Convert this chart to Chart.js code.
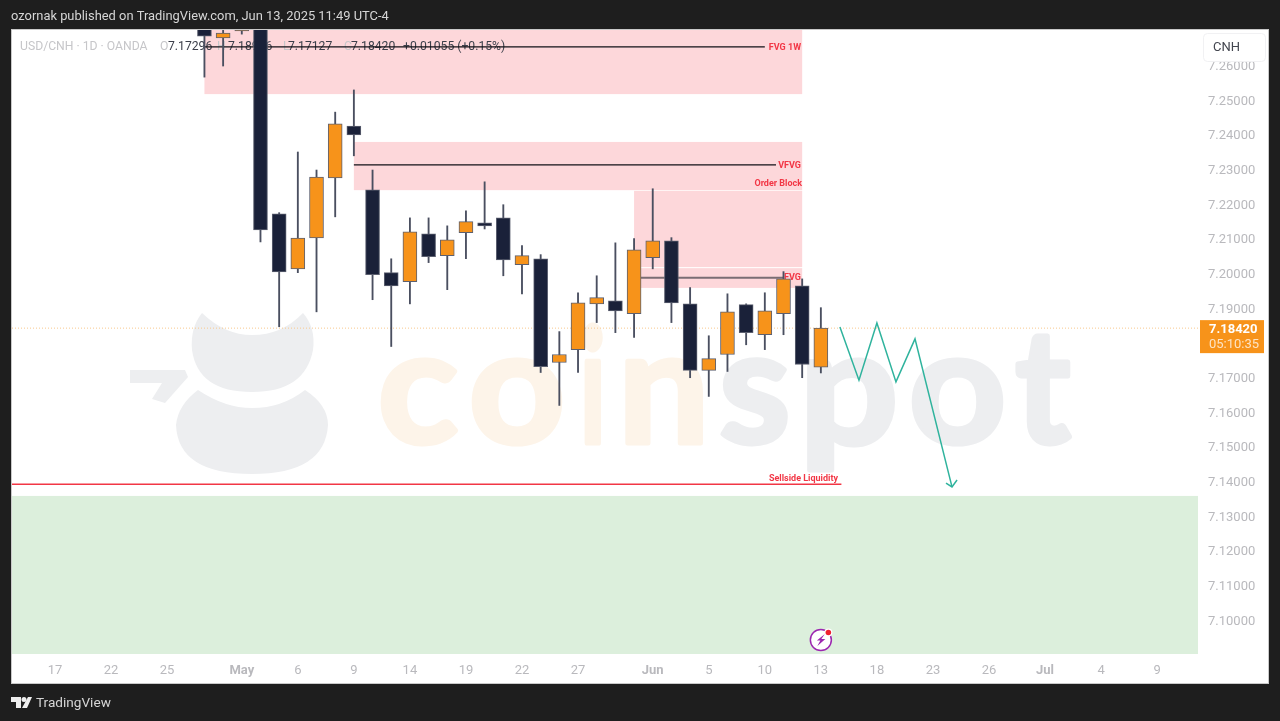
<!DOCTYPE html>
<html lang="en">
<head>
  <meta charset="UTF-8">
  <title>USD/CNH 1D</title>
  <style>
    html, body { margin: 0; padding: 0; background: #1e1e1e; overflow: hidden; }
    canvas { display: block; }
  </style>
</head>
<body>
  <canvas id="myChart" width="1280" height="721"></canvas>

  <script src="https://cdn.jsdelivr.net/npm/chart.js"></script>
  <script>
    // Daily candles, index 0 = Apr 17, index 41 = Jun 13
    const sessionDates = ["Apr 17","Apr 18","Apr 21","Apr 22","Apr 23","Apr 24","Apr 25","Apr 28","Apr 29","Apr 30",
      "May 1","May 2","May 5","May 6","May 7","May 8","May 9","May 12","May 13","May 14","May 15","May 16",
      "May 19","May 20","May 21","May 22","May 23","May 26","May 27","May 28","May 29","May 30",
      "Jun 2","Jun 3","Jun 4","Jun 5","Jun 6","Jun 9","Jun 10","Jun 11","Jun 12","Jun 13"];
    const firstCandle = 8; // older candles are off the top of the picture

    const opens  = [7.2730,7.2679,7.2699,7.2960,7.2172,7.2013,7.2102,7.2275,7.2425,7.2241,7.2002,7.1976,7.2114,7.2051,7.2117,7.2146,7.2160,7.2025,7.2042,7.1743,7.1780,7.1912,7.1921,7.1884,7.2045,7.2094,7.1912,7.1720,7.1766,7.1910,7.1823,7.1884,7.1964,7.17296];
    const highs  = [7.2770,7.2750,7.2760,7.2990,7.2175,7.2350,7.2298,7.2465,7.2529,7.2298,7.2042,7.2160,7.2160,7.2137,7.2180,7.2264,7.2198,7.2080,7.2054,7.1832,7.1944,7.1993,7.2088,7.2100,7.2244,7.2103,7.1959,7.1820,7.1941,7.1912,7.1944,7.2005,7.1984,7.1901];
    const lows   = [7.2566,7.2598,7.2690,7.2091,7.1846,7.2002,7.1889,7.2163,7.2339,7.1924,7.1789,7.1912,7.2031,7.1953,7.2042,7.2128,7.1993,7.1941,7.1714,7.1619,7.1714,7.1858,7.1829,7.1815,7.2013,7.1858,7.1699,7.1645,7.1717,7.1794,7.1780,7.1823,7.1699,7.17127];
    const closes = [7.2684,7.2693,7.2725,7.2125,7.2004,7.2102,7.2278,7.2431,7.2399,7.1996,7.1964,7.2120,7.2048,7.2097,7.2149,7.2137,7.2039,7.2051,7.1731,7.1766,7.1915,7.1930,7.1892,7.2068,7.2094,7.1915,7.1720,7.1754,7.1889,7.1829,7.1892,7.1984,7.1737,7.18420];

    const lastPrice = 7.18420;
    const countdown = "05:10:35";

    // Axis ticks
    const priceTicks = [7.10,7.11,7.12,7.13,7.14,7.15,7.16,7.17,7.18,7.19,7.20,7.21,7.22,7.23,7.24,7.25,7.26];
    const timeTickPos = [0,3,6,10,13,16,19,22,25,28,32,35,38,41,44,47,50,53,56,59];
    const timeTickLabels = ["17","22","25","May","6","9","14","19","22","27","Jun","5","10","13","18","23","26","Jul","4","9"];
    const boldTimeLabels = ["May","Jun","Jul"];

    // Pink zones
    const zoneNames  = ["FVG 1W","VFVG","Order Block","FVG"];
    const zoneStart  = [8,16,31,31];
    const zoneEnd    = [40,40,40,40];
    const zoneTop    = [7.2720,7.2379,7.2238,7.2015];
    const zoneBottom = [7.2517,7.2240,7.2018,7.1958];

    // Green zone
    const demandTop = 7.1358;
    const demandBottom = 7.0902;

    // Horizontal levels inside the zones
    const fvgWeekLevel = 7.2653;
    const vfvgLevel = 7.2313;
    const fvgLevel = 7.1987;
    const sellsideLevel = 7.1392;

    // Projected path drawn on the chart
    const pathX = [42.02,43.04,44.0,45.02,46.04,48.02];
    const pathY = [7.1845,7.1692,7.1857,7.1687,7.1811,7.1384];
    const arrowX = [47.70,48.02,48.29];
    const arrowY = [7.1395,7.1384,7.1404];

    const xMin = -2.302, xMax = 61.19;
    const yMin = 7.09021, yMax = 7.27019;

    const UP = "#f7931a", DOWN = "#1a2139", EDGE = "#5c6070", WICK = "#4a4f60";
    const RED = "#f23645", PINK = "#fdd7da", GREEN = "#dcefdc", TEAL = "#2fb39d";

    function level(from, to, y) {
      return [{ x: from, y: y }, { x: to, y: y }];
    }

    function lineSet(data, color, width, order, dash) {
      return {
        type: "line", data: data, borderColor: color, borderWidth: width,
        pointRadius: 0, tension: 0, order: order, borderDash: dash || [], borderCapStyle: "butt", fill: false
      };
    }

    // page frame, watermark and zones go under the candles
    const backdrop = {
      id: "backdrop",
      beforeDraw(chart) {
        const c = chart.ctx;
        c.save();
        c.fillStyle = "#1e1e1e";
        c.fillRect(0, 0, 1280, 721);
        c.fillStyle = "#ffffff";
        c.fillRect(11, 29, 1258, 655);
        c.strokeStyle = "#c9c9c9";
        c.lineWidth = 1;
        c.strokeRect(11.5, 29.5, 1257, 654);

        c.fillStyle = "#d6d6d6";
        c.font = "12.9px Roboto";
        c.textBaseline = "middle";
        c.fillText("ozornak published on TradingView.com, Jun 13, 2025 11:49 UTC-4", 11, 17);

        // TradingView mark
        c.fillStyle = "#eeeeee";
        c.fillRect(11, 697, 10, 5);
        c.fillRect(16, 697, 5, 11);
        c.beginPath();
        c.arc(24, 699.5, 2.5, 0, Math.PI * 2);
        c.fill();
        c.beginPath();
        c.moveTo(28, 697); c.lineTo(32, 697); c.lineTo(27, 708); c.lineTo(22, 708);
        c.closePath();
        c.fill();
        c.fillStyle = "#d6d6d6";
        c.font = "13.6px Roboto";
        c.fillText("TradingView", 36, 704);
        c.restore();
      },
      beforeDatasetsDraw(chart) {
        const c = chart.ctx, x = chart.scales.x, y = chart.scales.y;
        const area = chart.chartArea;
        c.save();
        c.beginPath();
        c.rect(area.left, area.top, area.right - area.left, area.bottom - area.top);
        c.clip();

        drawWatermark(c);

        // zones
        c.fillStyle = PINK;
        zoneNames.forEach((name, i) => {
          const l = x.getPixelForValue(zoneStart[i]), r = x.getPixelForValue(zoneEnd[i]);
          const t = y.getPixelForValue(zoneTop[i]), b = y.getPixelForValue(zoneBottom[i]);
          c.fillRect(l, t, r - l, b - t);
        });
        c.fillStyle = GREEN;
        const dt = y.getPixelForValue(demandTop), db = y.getPixelForValue(demandBottom);
        c.fillRect(area.left, dt, area.right - area.left, db - dt);

        // symbol line, candles sit over it
        c.textBaseline = "middle";
        c.font = "12.2px Roboto";
        c.fillStyle = "#c6c6c9";
        c.fillText("USD/CNH · 1D · OANDA", 20, 47);
        c.fillText("O", 160, 47);
        c.fillText("H", 217, 47);
        c.fillText("L", 283, 47);
        c.fillText("C", 344, 47);
        c.fillStyle = "#3c3f4a";
        c.fillText("7.17296", 168, 47);
        c.fillText("7.18996", 228, 47);
        c.fillText("7.17127", 288, 47);
        c.fillText("7.18420", 351, 47);
        c.fillText("+0.01055 (+0.15%)", 403, 47);

        // zone names
        c.fillStyle = RED;
        c.font = "bold 9px Roboto";
        c.textAlign = "right";
        c.fillText("FVG 1W", 801, 48);
        c.fillText("VFVG", 801, 166);
        c.fillText("Order Block", 802, 183.5);
        c.fillText("FVG", 801, 278);
        c.fillText("Sellside Liquidity", 838, 479);
        c.restore();
      },
      afterDraw(chart) {
        const c = chart.ctx, x = chart.scales.x, y = chart.scales.y;
        c.save();
        c.textBaseline = "middle";

        // symbol box
        c.fillStyle = "#ffffff";
        c.strokeStyle = "#f1f1f3";
        c.beginPath();
        c.roundRect(1203.5, 33.5, 62, 28, 4);
        c.fill();
        c.stroke();
        c.fillStyle = "#43464f";
        c.font = "13px Roboto";
        c.fillText("CNH", 1213, 48);

        // last price tag
        const py = y.getPixelForValue(lastPrice);
        c.fillStyle = UP;
        c.fillRect(1200, py - 8, 64, 33);
        c.fillStyle = "#ffffff";
        c.font = "bold 13px Roboto";
        c.fillText(lastPrice.toFixed(5), 1209, py + 2);
        c.fillStyle = "#fde3c4";
        c.font = "13px Roboto";
        c.fillText(countdown, 1209, py + 17);

        // bolt icon over the last session
        const ix = x.getPixelForValue(41), iy = 640;
        c.fillStyle = "#ffffff";
        c.strokeStyle = "#9c27b0";
        c.lineWidth = 1.5;
        c.beginPath();
        c.arc(ix, iy, 10.5, 0, Math.PI * 2);
        c.fill();
        c.stroke();
        c.fillStyle = "#9c27b0";
        c.beginPath();
        c.moveTo(ix + 4, iy - 6); c.lineTo(ix - 4, iy + 0.5); c.lineTo(ix - 0.5, iy + 0.5);
        c.lineTo(ix - 3.5, iy + 6); c.lineTo(ix + 4.5, iy - 1); c.lineTo(ix + 0.5, iy - 1);
        c.closePath();
        c.fill();
        c.fillStyle = "#ffffff";
        c.beginPath();
        c.arc(ix + 7.5, iy - 7.5, 4, 0, Math.PI * 2);
        c.fill();
        c.fillStyle = "#f01f2f";
        c.beginPath();
        c.arc(ix + 7.5, iy - 7.5, 2.8, 0, Math.PI * 2);
        c.fill();
        c.restore();
      }
    };

    function drawWatermark(c) {
      const grey = "#edeef0", peach = "#fdf4e9";
      c.fillStyle = grey;
      // head
      c.beginPath();
      c.moveTo(202, 313);
      c.quadraticCurveTo(225, 335, 252, 335);
      c.quadraticCurveTo(282, 335, 303, 313);
      c.quadraticCurveTo(316, 328, 313, 350);
      c.quadraticCurveTo(305, 392, 252, 392);
      c.quadraticCurveTo(198, 392, 192, 350);
      c.quadraticCurveTo(190, 328, 202, 313);
      c.fill();
      // body
      c.beginPath();
      c.moveTo(198, 390);
      c.quadraticCurveTo(225, 408, 252, 408);
      c.quadraticCurveTo(282, 408, 305, 390);
      c.quadraticCurveTo(328, 405, 328, 425);
      c.quadraticCurveTo(325, 474, 252, 474);
      c.quadraticCurveTo(178, 474, 176, 425);
      c.quadraticCurveTo(178, 405, 198, 390);
      c.fill();
      // beak
      c.beginPath();
      c.moveTo(130, 370); c.lineTo(185, 370); c.lineTo(188, 377); c.lineTo(165, 403);
      c.lineTo(152, 399); c.lineTo(162, 383); c.lineTo(130, 383);
      c.closePath();
      c.fill();

      c.textBaseline = "alphabetic";
      c.font = "bold 160px Lato";
      fitLetter(c, "c", 383, 456, peach);
      fitLetter(c, "o", 474, 560, peach);
      fitLetter(c, "i", 584, 601, peach);
      fitLetter(c, "n", 627, 701, peach);
      fitLetter(c, "s", 722, 786, grey);
      fitLetter(c, "p", 809, 893, grey);
      fitLetter(c, "o", 914, 1001, grey);
      fitLetter(c, "t", 1017, 1070, grey);
    }

    // each watermark letter is stretched to the box it fills in the logo
    function fitLetter(c, letter, left, right, color) {
      const m = c.measureText(letter);
      const w = m.actualBoundingBoxRight + m.actualBoundingBoxLeft;
      c.save();
      c.translate(left, 443);
      c.scale((right - left) / w, 1);
      c.translate(m.actualBoundingBoxLeft, 0);
      c.fillStyle = color;
      c.strokeStyle = color;
      c.lineWidth = 5;
      c.lineJoin = "round";
      c.strokeText(letter, 0, 0);
      c.fillText(letter, 0, 0);
      c.restore();
    }

    const candleIdx = opens.map((v, i) => firstCandle + i);
    const isUp = closes.map((v, i) => v >= opens[i]);

    const ctx = document.getElementById("myChart").getContext("2d");
    new Chart(ctx, {
      type: "bar",
      plugins: [backdrop],
      data: {
        datasets: [
          {
            label: "body",
            data: candleIdx.map((d, i) => ({ x: d, y: [opens[i], closes[i]] })),
            backgroundColor: isUp.map(u => u ? UP : DOWN),
            borderColor: EDGE,
            borderWidth: 1,
            borderSkipped: false,
            barThickness: 14,
            grouped: false,
            order: 1
          },
          {
            label: "wick",
            data: candleIdx.map((d, i) => ({ x: d, y: [lows[i], highs[i]] })),
            backgroundColor: WICK,
            borderWidth: 0,
            barThickness: 1.2,
            grouped: false,
            order: 2
          },
          lineSet(pathX.map((v, i) => ({ x: v, y: pathY[i] })), TEAL, 1.5, 0),
          lineSet(arrowX.map((v, i) => ({ x: v, y: arrowY[i] })), TEAL, 1.5, 0),
          lineSet(level(8, 38, fvgWeekLevel), "#111116", 1.2, 3),
          lineSet(level(16, 38.6, vfvgLevel), "#111116", 1.2, 3),
          lineSet(level(31, 39, fvgLevel), "#7a6d73", 2, 3),
          lineSet(level(xMin, 42.1, sellsideLevel), RED, 1.5, 3),
          lineSet(level(xMin, xMax, lastPrice), "#f9c88d", 1, 4, [1, 2])
        ]
      },
      options: {
        responsive: false,
        animation: false,
        layout: { padding: { left: 12, right: 11, top: 30, bottom: 38 } },
        plugins: { legend: { display: false }, tooltip: { enabled: false } },
        scales: {
          x: {
            type: "linear",
            min: xMin,
            max: xMax,
            offset: false,
            grid: { display: false },
            border: { display: false },
            afterFit: s => { s.height = 29; },
            afterBuildTicks: s => { s.ticks = timeTickPos.map(v => ({ value: v })); },
            ticks: {
              autoSkip: false,
              maxRotation: 0,
              padding: 1,
              color: "#b9b9bd",
              callback: v => timeTickLabels[timeTickPos.indexOf(v)],
              font: c => ({
                family: "Roboto",
                size: 13,
                weight: c.tick && boldTimeLabels.includes(timeTickLabels[timeTickPos.indexOf(c.tick.value)]) ? "bold" : "normal"
              })
            }
          },
          y: {
            position: "right",
            min: yMin,
            max: yMax,
            grid: { display: false },
            border: { display: false },
            afterFit: s => { s.width = 71; },
            afterBuildTicks: s => { s.ticks = priceTicks.map(v => ({ value: v })); },
            ticks: {
              autoSkip: false,
              padding: 2,
              labelOffset: 1.5,
              color: "#b9b9bd",
              font: { family: "Roboto", size: 13 },
              callback: v => v.toFixed(5)
            }
          }
        }
      }
    });
  </script>
</body>
</html>
